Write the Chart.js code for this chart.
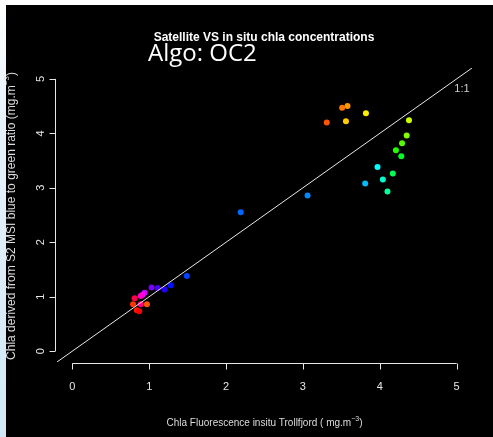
<!DOCTYPE html>
<html>
<head>
<meta charset="utf-8">
<script src="https://cdn.jsdelivr.net/npm/chart.js@4"></script>
<style>
  html, body { margin: 0; padding: 0; background: #000; }
  #wrap { width: 493px; height: 437px; position: relative; }
</style>
</head>
<body>
<div id="wrap"><canvas id="chlaChart" width="493" height="437"></canvas></div>
<script>
// in situ fluorescence chla (x) vs satellite OC2 chla (y), mg.m-3
const insituChla = [1.49, 1.28, 1.20, 1.11, 1.03, 0.94, 0.91, 0.89, 0.81, 0.89, 0.79, 0.97, 0.84, 0.87,
    2.19, 3.06, 3.81, 3.97, 4.04, 4.10, 4.17, 4.28, 4.21, 4.29, 4.35, 4.38, 3.82, 3.56, 3.58, 3.51, 3.31];
const satelliteChla = [1.38, 1.21, 1.13, 1.16, 1.17, 1.07, 1.03, 1.01, 0.97, 0.86, 0.86, 0.86, 0.75, 0.73,
    2.55, 2.86, 3.08, 3.38, 3.15, 2.93, 3.26, 3.58, 3.69, 3.82, 3.96, 4.24, 4.37, 4.22, 4.50, 4.47, 4.20];
const pointColors = ["#0044ff", "#0011ff", "#2200ff", "#4400ff", "#7700ff", "#cc00ff", "#ff00ff", "#ff00cc",
    "#ff0044", "#ff0088", "#ff3300", "#ff5500", "#ff1a00", "#ff0000",
    "#0066ff", "#0088ff", "#00bbff", "#00ffff", "#00ffcc", "#00ff99", "#00ff55", "#00ff22", "#22ff00",
    "#55ff00", "#88ff00", "#ccff00", "#ffee00", "#ffcc00", "#ff9900", "#ff7700", "#ff5500"];
const oneToOne = [-0.2, 5.2];
const tickValues = [0, 1, 2, 3, 4, 5];

const points = insituChla.map((x, i) => ({ x: x, y: satelliteChla[i] }));
const diag = oneToOne.map(v => ({ x: v, y: v }));

// R style axes, titles and page frame
const rAxes = {
    id: "rAxes",
    beforeDraw(chart) {
        const ctx = chart.ctx;
        ctx.save();
        ctx.fillStyle = "#000";
        ctx.fillRect(0, 0, chart.width, chart.height);
        ctx.fillStyle = "#fff";
        ctx.fillRect(0, 0, chart.width, 5);
        let g = ctx.createLinearGradient(0, 0, 0, chart.height);
        g.addColorStop(0, "#ffffff");
        g.addColorStop(0.3, "#e4f1fa");
        g.addColorStop(1, "#d2e8f6");
        ctx.fillStyle = g;
        ctx.fillRect(0, 0, 6, chart.height);
        ctx.restore();
    },
    afterDraw(chart) {
        const ctx = chart.ctx;
        const xs = chart.scales.x, ys = chart.scales.y;
        const area = chart.chartArea;
        ctx.save();
        ctx.strokeStyle = "#e6e6e6";
        ctx.fillStyle = "#e6e6e6";
        ctx.lineWidth = 1;

        // x axis
        let ay = Math.round(area.bottom + 1) + 0.5;
        ctx.beginPath();
        ctx.moveTo(xs.getPixelForValue(0), ay);
        ctx.lineTo(xs.getPixelForValue(5), ay);
        tickValues.forEach(t => {
            let px = Math.round(xs.getPixelForValue(t)) + 0.5;
            ctx.moveTo(px, ay);
            ctx.lineTo(px, ay + 6);
        });
        ctx.stroke();
        ctx.font = "11px 'Liberation Sans', Arial, sans-serif";
        ctx.textAlign = "center";
        ctx.textBaseline = "middle";
        tickValues.forEach(t => ctx.fillText(String(t), xs.getPixelForValue(t), ay + 23));

        // y axis
        let ax = Math.round(area.left - 2) + 0.5;
        ctx.beginPath();
        ctx.moveTo(ax, ys.getPixelForValue(0));
        ctx.lineTo(ax, ys.getPixelForValue(5));
        tickValues.forEach(t => {
            let py = Math.round(ys.getPixelForValue(t)) + 0.5;
            ctx.moveTo(ax, py);
            ctx.lineTo(ax - 6, py);
        });
        ctx.stroke();
        tickValues.forEach(t => {
            ctx.save();
            ctx.translate(ax - 15, ys.getPixelForValue(t));
            ctx.rotate(-Math.PI / 2);
            ctx.fillText(String(t), 0, 0);
            ctx.restore();
        });

        // axis titles
        ctx.fillStyle = "#dcdcdc";
        ctx.font = "10px 'Liberation Sans', Arial, sans-serif";
        drawSup(ctx, "Chla Fluorescence insitu Trollfjord ( mg.m", "\u22123", ")", (area.left + area.right) / 2, 423, 10);

        ctx.save();
        ctx.translate(12, 216);
        ctx.rotate(-Math.PI / 2);
        ctx.font = "12px 'Liberation Sans', Arial, sans-serif";
        drawSup(ctx, "Chla derived from S2 MSI blue to green ratio (mg.m", "\u22123", ")", 0, 0, 12);
        ctx.restore();

        // titles
        ctx.fillStyle = "#ffffff";
        ctx.textAlign = "center";
        ctx.font = "bold 12px 'Liberation Sans', Arial, sans-serif";
        ctx.fillText("Satellite VS in situ chla concentrations", 264, 38);
        ctx.textAlign = "left";
        ctx.font = "24px 'Open Sans', sans-serif";
        ctx.fillText("Algo: OC2", 148, 54);

        // 1:1 label
        ctx.fillStyle = "#cfcfcf";
        ctx.textAlign = "center";
        ctx.font = "11px 'Liberation Sans', Arial, sans-serif";
        ctx.fillText("1:1", 462, 89);
        ctx.restore();
    }
};

function drawSup(ctx, main, sup, tail, cx, cy, size) {
    const base = ctx.font;
    const smallFont = base.replace(size + "px", Math.round(size * 0.7) + "px");
    let w1 = ctx.measureText(main).width;
    ctx.font = smallFont;
    let w2 = ctx.measureText(sup).width;
    ctx.font = base;
    let w3 = ctx.measureText(tail).width;
    let x0 = cx - (w1 + w2 + w3) / 2;
    ctx.textAlign = "left";
    ctx.textBaseline = "middle";
    ctx.fillText(main, x0, cy);
    ctx.font = smallFont;
    ctx.fillText(sup, x0 + w1, cy - size * 0.4);
    ctx.font = base;
    ctx.fillText(tail, x0 + w1 + w2, cy);
    ctx.textAlign = "center";
}

new Chart(document.getElementById("chlaChart"), {
    type: "scatter",
    data: {
        datasets: [
            {
                data: diag,
                showLine: true,
                borderColor: "#e8e8e8",
                borderWidth: 1,
                pointRadius: 0,
                order: 0
            },
            {
                data: points,
                backgroundColor: pointColors,
                borderWidth: 0,
                pointRadius: 3,
                order: 1
            }
        ]
    },
    options: {
        responsive: false,
        animation: false,
        layout: { padding: { left: 57, right: 21, top: 68, bottom: 75 } },
        plugins: { legend: { display: false }, tooltip: { enabled: false } },
        scales: {
            x: { type: "linear", display: false, min: -0.2, max: 5.2 },
            y: { type: "linear", display: false, min: -0.2, max: 5.2 }
        }
    },
    plugins: [rAxes]
});
</script>
</body>
</html>
